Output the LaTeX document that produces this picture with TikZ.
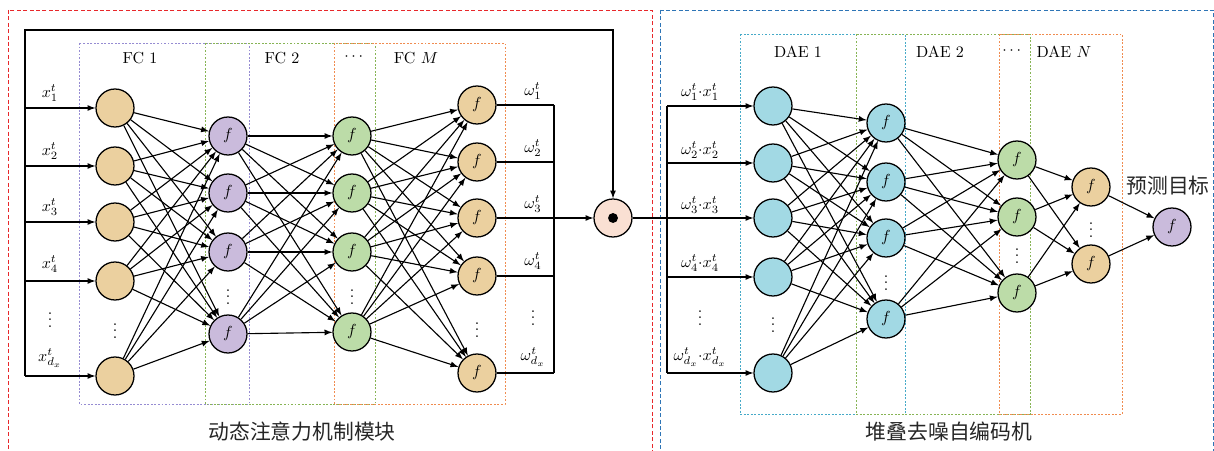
\documentclass[tikz,border=0pt]{standalone}
\usepackage{amsmath}
\usepackage{amssymb}
\usepackage{fontspec}
\newfontfamily\cjk{Noto Sans CJK SC}
\usetikzlibrary{arrows, positioning}
\definecolor{tanfill}{RGB}{235,208,159}
\definecolor{lilafill}{RGB}{202,187,220}
\definecolor{verdefill}{RGB}{188,220,168}
\definecolor{cianfill}{RGB}{162,217,228}
\definecolor{prodfill}{RGB}{250,224,211}
\definecolor{rojo}{RGB}{232,40,43}
\definecolor{azul}{RGB}{46,117,182}
\definecolor{lila}{RGB}{150,140,210}
\definecolor{verde}{RGB}{135,180,85}
\definecolor{naranja}{RGB}{240,140,80}
\definecolor{cian}{RGB}{70,170,200}
\tikzstyle{neurona} = [circle, draw=black, line width=0.8pt, minimum size=23.75pt, inner sep=0pt]
\tikzstyle{enlace} = [-latex, line width=0.7pt]
\tikzstyle{bus} = [line width=0.7pt]
\tikzstyle{etiqueta} = [inner sep=0pt]
\tikzstyle{capa} = [line width=0.5pt, dash pattern=on 1.2pt off 1pt]
\tikzstyle{modulo} = [line width=0.6pt, dash pattern=on 2.5pt off 1.5pt]
\tikzstyle{titulo} = [inner sep=0pt, text=black!85, font=\cjk\fontsize{13pt}{15pt}\selectfont]

\begin{document}
\begin{tikzpicture}[x=0.625pt, y=-0.625pt]
	\useasboundingbox (0,0) rectangle (1214,451);
	\clip (0,0) rectangle (1214,451);
	% modulos
	\draw[modulo, rojo] (8,10) rectangle (652,470);
	\draw[modulo, azul] (660,10) rectangle (1213,470);
	% capas FC
	\draw[capa, lila] (79,43) rectangle (249,404);
	\draw[capa, verde] (205,43) rectangle (375,404);
	\draw[capa, naranja] (334,43) rectangle (505,404);
	% capas DAE
	\draw[capa, cian] (740,34) rectangle (905,414);
	\draw[capa, verde] (856,34) rectangle (1030,414);
	\draw[capa, naranja] (999,34) rectangle (1122,414);

	\node[etiqueta] (fc1) at (140,58) {FC 1};
	\node[etiqueta] (fc2) at (282,58) {FC 2};
	\node[etiqueta] (fcdots) at (355,57) {$\cdots$};
	\node[etiqueta] (fcM) at (416,58) {FC $M$};
	\node[etiqueta] (dae1) at (798,52) {DAE 1};
	\node[etiqueta] (dae2) at (940,52) {DAE 2};
	\node[etiqueta] (daedots) at (1013,51) {$\cdots$};
	\node[etiqueta] (daeN) at (1064,52) {DAE $N$};

	% atencion: cuatro capas
	\foreach \y [count=\i] in {108,166,222,281,376}
		\node[neurona, fill=tanfill] (a\i) at (115,\y) {};
	\foreach \y [count=\i] in {136,193,252,334}
		\node[neurona, fill=lilafill] (b\i) at (228,\y) {$f$};
	\foreach \y [count=\i] in {136,193,252,332}
		\node[neurona, fill=verdefill] (c\i) at (352,\y) {$f$};
	\foreach \y [count=\i] in {105,162,218,276,373}
		\node[neurona, fill=tanfill] (d\i) at (477,\y) {$f$};
	\node[etiqueta] (adots) at (115,326) {$\vdots$};
	\node[etiqueta] (bdots) at (228,292) {$\vdots$};
	\node[etiqueta] (cdots) at (352,292) {$\vdots$};
	\node[etiqueta] (ddots) at (477,325) {$\vdots$};

	\node[neurona, fill=prodfill] (prod) at (613,218) {};
	\fill (prod.center) circle (3.1pt);

	% DAE
	\foreach \y [count=\i] in {106,163,218,277,373}
		\node[neurona, fill=cianfill] (e\i) at (773,\y) {};
	\foreach \y [count=\i] in {123,182,238,319}
		\node[neurona, fill=cianfill] (g\i) at (886,\y) {$f$};
	\foreach \y [count=\i] in {160,217,293}
		\node[neurona, fill=verdefill] (h\i) at (1017,\y) {$f$};
	\foreach \y [count=\i] in {187,264}
		\node[neurona, fill=tanfill] (k\i) at (1091,\y) {$f$};
	\node[neurona, fill=lilafill] (sal) at (1172,227) {$f$};
	\node[etiqueta] (edots) at (773,320) {$\vdots$};
	\node[etiqueta] (gdots) at (886,278) {$\vdots$};
	\node[etiqueta] (hdots) at (1017,251) {$\vdots$};
	\node[etiqueta] (kdots) at (1091,225) {$\vdots$};
	\node[titulo] (meta) at (1168,186) {预测目标};

	% conexiones completas
	\foreach \i in {1,...,5}
		\foreach \j in {1,...,4}
			\draw[enlace] (a\i) -- (b\j);
	\foreach \i in {1,...,4}
		\foreach \j in {1,...,4}
			\draw[enlace] (b\i) -- (c\j);
	\foreach \i in {1,...,4}
		\foreach \j in {1,...,5}
			\draw[enlace] (c\i) -- (d\j);
	\foreach \i in {1,...,5}
		\foreach \j in {1,...,4}
			\draw[enlace] (e\i) -- (g\j);
	\foreach \i in {1,...,4}
		\foreach \j in {1,...,3}
			\draw[enlace] (g\i) -- (h\j);
	\foreach \i in {1,...,3}
		\foreach \j in {1,2}
			\draw[enlace] (h\i) -- (k\j);
	\foreach \i in {1,2}
		\draw[enlace] (k\i) -- (sal);

	% entradas y lazo hacia el producto
	\coordinate (busL) at (25,30);
	\foreach \i in {1,...,5}
		\draw[enlace] (a\i -| busL) -- (a\i);
	\draw[enlace] (a5 -| busL) -- (busL) -| (prod);
	\node[etiqueta] (x1) at (50,93) {$x_1^t$};
	\node[etiqueta] (x2) at (50,151) {$x_2^t$};
	\node[etiqueta] (x3) at (50,207) {$x_3^t$};
	\node[etiqueta] (x4) at (50,264) {$x_4^t$};
	\node[etiqueta] (xdots) at (50,315) {$\vdots$};
	\node[etiqueta] (xd) at (50,358) {$x_{d_x}^t$};

	% pesos de atencion
	\coordinate (busR) at (554,105);
	\foreach \i in {1,2,4,5}
		\draw[bus] (d\i) -- (d\i -| busR);
	\draw[bus] (d1 -| busR) -- (d5 -| busR);
	\draw[enlace] (d3) -- (prod);
	\node[etiqueta] (w1) at (533,91) {$\omega_1^t$};
	\node[etiqueta] (w2) at (533,148) {$\omega_2^t$};
	\node[etiqueta] (w3) at (533,204) {$\omega_3^t$};
	\node[etiqueta] (w4) at (533,261) {$\omega_4^t$};
	\node[etiqueta] (wdots) at (533,313) {$\vdots$};
	\node[etiqueta] (wd) at (533,357) {$\omega_{d_x}^t$};

	% entradas ponderadas al DAE
	\coordinate (busD) at (667,218);
	\draw[bus] (prod) -- (busD);
	\draw[bus] (e1 -| busD) -- (e5 -| busD);
	\foreach \i in {1,...,5}
		\draw[enlace] (e\i -| busD) -- (e\i);
	\node[etiqueta] (p1) at (700,92) {$\omega_1^t{\cdot}x_1^t$};
	\node[etiqueta] (p2) at (700,150) {$\omega_2^t{\cdot}x_2^t$};
	\node[etiqueta] (p3) at (700,205) {$\omega_3^t{\cdot}x_3^t$};
	\node[etiqueta] (p4) at (700,263) {$\omega_4^t{\cdot}x_4^t$};
	\node[etiqueta] (pdots) at (700,313) {$\vdots$};
	\node[etiqueta] (pd) at (700,357) {$\omega_{d_x}^t{\cdot}x_{d_x}^t$};

	\node[titulo] (modA) at (302,432) {动态注意力机制模块};
	\node[titulo] (modB) at (949,432) {堆叠去噪自编码机};
\end{tikzpicture}
\end{document}
